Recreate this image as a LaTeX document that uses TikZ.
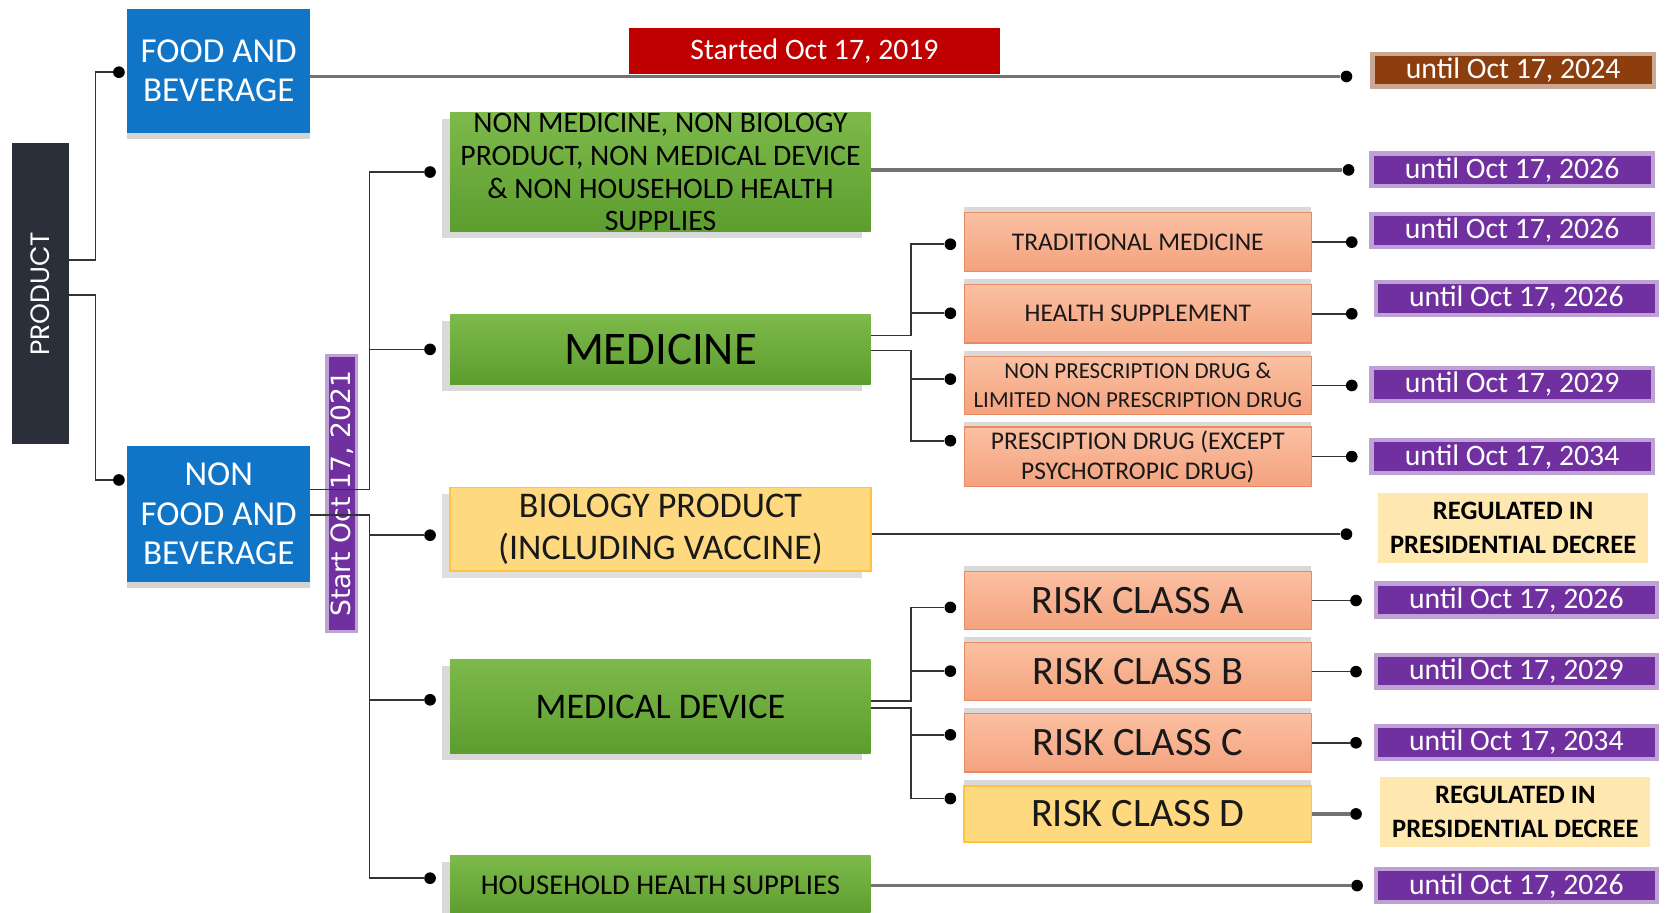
\documentclass[tikz,border=0pt]{standalone}
\usepackage{fontspec}
\usepackage{graphicx}
\setmainfont{Carlito}
\newfontfamily\prodfont{Poppins}
\newfontfamily\vfont{DejaVu Sans}
\usetikzlibrary{shadows}
\definecolor{cnavy}{RGB}{43,47,58}
\definecolor{cblue}{RGB}{16,117,199}
\definecolor{cred}{RGB}{192,0,0}
\definecolor{cbrown}{RGB}{140,62,15}
\definecolor{cpurple}{RGB}{112,48,160}
\definecolor{cgreenT}{RGB}{125,185,75}
\definecolor{cgreenB}{RGB}{92,157,46}
\definecolor{csalT}{RGB}{250,192,162}
\definecolor{csalB}{RGB}{244,162,125}
\definecolor{csalD}{RGB}{232,138,98}
\definecolor{cyel}{RGB}{255,217,128}
\definecolor{cyelD}{RGB}{255,196,60}
\definecolor{cregbg}{RGB}{255,232,176}
\begin{document}
\begin{tikzpicture}[x=0.5pt,y=-0.5pt,
  conn/.style={draw=black!80, line width=0.8pt},
  thickconn/.style={draw=black!55, line width=1.5pt},
  dotn/.style={circle, fill=black, inner sep=0pt, minimum size=5.5pt},
  basebox/.style={rectangle, inner sep=0pt, align=center},
  bluebox/.style={basebox, fill=cblue, text=white, minimum width=86pt,
    drop shadow={shadow xshift=0pt, shadow yshift=-3pt, opacity=0.35},
    font=\fontsize{16.5}{18.5}\selectfont},
  greenbox/.style={basebox, top color=cgreenT, bottom color=cgreenB, text=black,
    minimum width=198pt, drop shadow={shadow xshift=-4pt, shadow yshift=-3pt, opacity=0.3}},
  salmonbox/.style={basebox, top color=csalT, bottom color=csalB, draw=csalD,
    line width=0.6pt, minimum width=163.5pt, text=black!90,
    drop shadow={shadow xshift=0pt, shadow yshift=2.5pt, opacity=0.3}},
  yellowbox/.style={basebox, fill=cyel, draw=cyelD, line width=0.8pt, text=black!90},
  datebox/.style={basebox, fill=cpurple, text=white, draw=cpurple!45, line width=2pt,
    minimum width=132.5pt, minimum height=15.5pt, font=\fontsize{14}{16}\selectfont},
  regbox/.style={basebox, fill=cregbg, minimum width=127pt, minimum height=33pt,
    font=\bfseries\fontsize{12.5}{16}\selectfont, text=black}
]
\useasboundingbox (0,0) rectangle (1568,859);

% left column
\node[basebox, fill=cnavy, minimum width=27pt, minimum height=141.5pt, text=white,
  font=\prodfont\fontsize{12.5}{14}\selectfont] (product) at (38,276.5) {\rotatebox{90}{PRODUCT}};
\node[bluebox, minimum height=58.5pt] (food) at (206,66.5) {FOOD AND\\BEVERAGE};
\node[bluebox, minimum height=64pt] (nonfood) at (206,484) {NON\\FOOD AND\\BEVERAGE};
\node[basebox, fill=cred, text=white, minimum width=175pt, minimum height=22pt,
  font=\fontsize{14}{16}\selectfont] (started) at (767,48) {Started Oct 17, 2019};
\node[datebox, fill=cbrown, draw=cbrown!45] (u2024) at (1425,66) {until Oct 17, 2024};
\node[basebox, fill=cpurple, draw=cpurple!45, line width=1.5pt, minimum width=14pt,
  minimum height=130pt, text=white, font=\vfont\fontsize{12.5}{14}\selectfont]
  (startstrip) at (322,465) {\rotatebox{90}{Start Oct 17, 2021}};

% middle column
\node[greenbox, minimum height=55pt, font=\fontsize{14}{15.5}\selectfont] (nonmed) at (622,162)
  {NON MEDICINE, NON BIOLOGY\\PRODUCT, NON MEDICAL DEVICE\\\& NON HOUSEHOLD HEALTH\\SUPPLIES};
\node[greenbox, minimum height=33pt, font=\fontsize{22}{24}\selectfont] (medicine) at (622,329) {MEDICINE};
\node[yellowbox, minimum width=198pt, minimum height=39.5pt, font=\fontsize{17}{20}\selectfont,
  drop shadow={shadow xshift=-4pt, shadow yshift=-3pt, opacity=0.25}] (biology) at (622,498.5)
  {BIOLOGY PRODUCT\\(INCLUDING VACCINE)};
\node[greenbox, minimum height=44.5pt, font=\fontsize{17}{19}\selectfont] (meddev) at (622,665.5) {MEDICAL DEVICE};
\node[greenbox, minimum height=28pt, font=\fontsize{13.5}{15}\selectfont] (household) at (622,834) {HOUSEHOLD HEALTH SUPPLIES};

% sub boxes
\node[salmonbox, minimum height=28pt, font=\fontsize{12}{14}\selectfont] (trad) at (1071.5,228) {TRADITIONAL MEDICINE};
\node[salmonbox, minimum height=27.5pt, font=\fontsize{12}{14}\selectfont] (health) at (1071.5,295.5) {HEALTH SUPPLEMENT};
\node[salmonbox, minimum height=27pt, font=\fontsize{10.8}{13.5}\selectfont] (nonpres) at (1071.5,363)
  {NON PRESCRIPTION DRUG \&\\LIMITED NON PRESCRIPTION DRUG};
\node[salmonbox, minimum height=28pt, font=\fontsize{12}{14}\selectfont] (pres) at (1071.5,430)
  {PRESCIPTION DRUG (EXCEPT\\PSYCHOTROPIC DRUG)};
\node[salmonbox, minimum height=27.5pt, font=\fontsize{19}{21}\selectfont] (riskA) at (1071.5,565.5) {RISK CLASS A};
\node[salmonbox, minimum height=27.5pt, font=\fontsize{19}{21}\selectfont] (riskB) at (1071.5,632.5) {RISK CLASS B};
\node[salmonbox, minimum height=27.5pt, font=\fontsize{19}{21}\selectfont] (riskC) at (1071.5,699.5) {RISK CLASS C};
\node[yellowbox, minimum width=163.5pt, minimum height=26.5pt, font=\fontsize{19}{21}\selectfont,
  drop shadow={shadow xshift=0pt, shadow yshift=2.5pt, opacity=0.3}] (riskD) at (1071.5,766.5) {RISK CLASS D};

% right column
\node[datebox] (u1) at (1424,160) {until Oct 17, 2026};
\node[datebox] (u2) at (1424,217) {until Oct 17, 2026};
\node[datebox] (u3) at (1428,281) {until Oct 17, 2026};
\node[datebox] (u4) at (1424,362) {until Oct 17, 2029};
\node[datebox] (u5) at (1424,430) {until Oct 17, 2034};
\node[regbox] (reg1) at (1425,497) {REGULATED IN\\PRESIDENTIAL DECREE};
\node[datebox] (uA) at (1428,565) {until Oct 17, 2026};
\node[datebox] (uB) at (1428,632) {until Oct 17, 2029};
\node[datebox] (uC) at (1428,699) {until Oct 17, 2034};
\node[regbox] (reg2) at (1427,765) {REGULATED IN\\PRESIDENTIAL DECREE};
\node[datebox] (uH) at (1428,834) {until Oct 17, 2026};

% dots
\node[dotn] (dfood) at (112,68) {};
\node[dotn] (dnonfood) at (112,452) {};
\node[dotn] (dfoodr) at (1268,72) {};
\node[dotn] (dnm) at (405,162) {};
\node[dotn] (dmed) at (405,329) {};
\node[dotn] (dbio) at (405,504) {};
\node[dotn] (dmd) at (405,659) {};
\node[dotn] (dhh) at (405,827) {};
\node[dotn] (dnmr) at (1270,160) {};
\node[dotn] (dtr) at (895,230) {};
\node[dotn] (dhs) at (895,295) {};
\node[dotn] (dnp) at (895,357) {};
\node[dotn] (dpr) at (895,415) {};
\node[dotn] (dtrr) at (1273,228) {};
\node[dotn] (dhsr) at (1273,295.5) {};
\node[dotn] (dnpr) at (1273,363) {};
\node[dotn] (dprr) at (1273,430) {};
\node[dotn] (dbior) at (1268,503) {};
\node[dotn] (dA) at (895,572) {};
\node[dotn] (dB) at (895,632) {};
\node[dotn] (dC) at (895,692) {};
\node[dotn] (dD) at (895,752) {};
\node[dotn] (dAr) at (1277,565.5) {};
\node[dotn] (dBr) at (1277,632.5) {};
\node[dotn] (dCr) at (1277,699.5) {};
\node[dotn] (dDr) at (1277,766.5) {};
\node[dotn] (dhhr) at (1278,834) {};

% connectors
\draw[conn] ([yshift=15.75pt]product.east) -- (90,245) |- (dfood);
\draw[conn] ([yshift=-0.75pt]product.east) -- (90,278) |- (dnonfood);
\draw[thickconn] ([yshift=-2.75pt]food.east) -- (dfoodr);

\draw[conn] ([yshift=11.5pt]nonfood.east) -| (348,162) -- (dnm);
\draw[conn] ([yshift=11.5pt]nonfood.east) -| (348,329) -- (dmed);
\draw[conn] ([yshift=-0.5pt]nonfood.east) -| (348,504) -- (dbio);
\draw[conn] ([yshift=-0.5pt]nonfood.east) -| (348,659) -- (dmd);
\draw[conn] ([yshift=-0.5pt]nonfood.east) -| (348,827) -- (dhh);

\draw[thickconn] ([yshift=1pt]nonmed.east) -- (dnmr);
\draw[conn] ([yshift=6.5pt]medicine.east) -| (858,230) -- (dtr);
\draw[conn] ([yshift=6.5pt]medicine.east) -| (858,295) -- (dhs);
\draw[conn] ([yshift=-0.5pt]medicine.east) -| (858,357) -- (dnp);
\draw[conn] ([yshift=-0.5pt]medicine.east) -| (858,415) -- (dpr);
\draw[conn] (trad.east) -- (dtrr);
\draw[conn] (health.east) -- (dhsr);
\draw[conn] (nonpres.east) -- (dnpr);
\draw[conn] (pres.east) -- (dprr);

\draw[conn] ([yshift=-2.25pt]biology.east) -- (dbior);

\draw[conn] ([yshift=2.75pt]meddev.east) -| (858,572) -- (dA);
\draw[conn] ([yshift=2.75pt]meddev.east) -| (858,632) -- (dB);
\draw[conn] ([yshift=-0.75pt]meddev.east) -| (858,692) -- (dC);
\draw[conn] ([yshift=-0.75pt]meddev.east) -| (858,752) -- (dD);
\draw[conn] (riskA.east) -- (dAr);
\draw[conn] (riskB.east) -- (dBr);
\draw[conn] (riskC.east) -- (dCr);
\draw[thickconn] (riskD.east) -- (dDr);

\draw[thickconn] (household.east) -- (dhhr);
\end{tikzpicture}
\end{document}
